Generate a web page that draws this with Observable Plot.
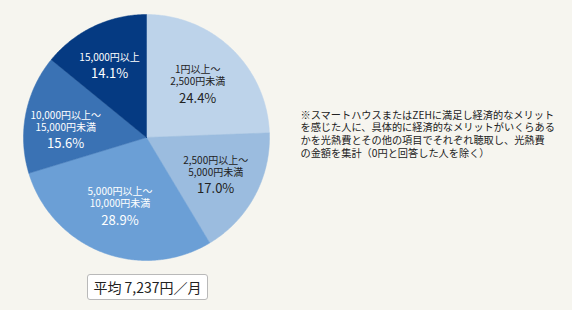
<!DOCTYPE html>
<html lang="ja">
<head>
<meta charset="utf-8">
<script src="https://cdn.jsdelivr.net/npm/d3@7"></script>
<script src="https://cdn.jsdelivr.net/npm/@observablehq/plot@0.6"></script>
<style>
  html, body { margin: 0; padding: 0; background: #f6f5ef; }
  body { width: 572px; height: 310px; overflow: hidden; position: relative;
         font-family: "Noto Sans CJK JP", "Noto Sans", sans-serif; }
  #avg { position: absolute; left: 87px; top: 274px; width: 119px; height: 24px;
         background: #fff; border: 1px solid #b9b9b9; border-radius: 3px;
         font-size: 14px; line-height: 24px; text-align: center; color: #222; }
</style>
</head>
<body>
<div id="chart"></div>
<div id="avg"></div>
<script>
// Monthly utility-cost savings reported by respondents (share of answers)
const categories = [
  ["1円以上～", "2,500円未満"],
  ["2,500円以上～", "5,000円未満"],
  ["5,000円以上～", "10,000円未満"],
  ["10,000円以上～", "15,000円未満"],
  ["15,000円以上"]
];
const shares = [24.4, 17.0, 28.9, 15.6, 14.1];
const colors = ["#bdd3ea", "#9bbcdf", "#6b9fd6", "#3a72b4", "#053a82"];
const textColors = ["#222", "#222", "#fff", "#fff", "#fff"];
const averageLabel = "平均 7,237円／月";
const noteLines = [
  "※スマートハウスまたはZEHに満足し経済的なメリット",
  "を感じた人に、具体的に経済的なメリットがいくらある",
  "かを光熱費とその他の項目でそれぞれ聴取し、光熱費",
  "の金額を集計（0円と回答した人を除く）"
];

// Slice angles, clockwise from 12 o'clock
const arcs = d3.pie().sort(null).value(d => d)(shares);

// Each slice as a closed polygon in unit-circle coordinates
const polys = [];
arcs.forEach((a, i) => {
  polys.push({i, x: 0, y: 0});
  const n = Math.max(2, Math.ceil((a.endAngle - a.startAngle) / 0.01));
  for (let k = 0; k <= n; k++) {
    const t = a.startAngle + (a.endAngle - a.startAngle) * k / n;
    polys.push({i, x: Math.sin(t), y: Math.cos(t)});
  }
  polys.push({i, x: 0, y: 0});
});

// Label anchor per slice, placed along its mid-angle (small angular nudge
// for the narrow left-hand slice so its three lines sit inside the wedge)
const labelRadius = [0.6, 0.64, 0.6, 0.66, 0.7];
const labelNudge = [0, 0, 0, -0.1, 0];
const labels = arcs.map((a, i) => {
  const mid = (a.startAngle + a.endAngle) / 2 + labelNudge[i];
  const r = labelRadius[i];
  return {i, x: r * Math.sin(mid), y: r * Math.cos(mid),
          name: categories[i].join("\n"), pct: shares[i].toFixed(1) + "%"};
});

const chart = Plot.plot({
  width: 572,
  height: 270,
  margin: 0,
  style: {background: "transparent", fontFamily: "'Noto Sans CJK JP', sans-serif"},
  x: {domain: [-1, 1], range: [23, 269], axis: null},
  y: {domain: [-1, 1], range: [260, 14], axis: null},
  marks: [
    Plot.line(polys, {x: "x", y: "y", z: "i", curve: "linear",
      fill: d => colors[d.i], stroke: d => colors[d.i], strokeWidth: 0.5}),
    Plot.text(labels, {x: "x", y: "y", text: "name", fontSize: 10,
      lineHeight: 1.2, lineAnchor: "bottom", dy: 1,
      fill: d => textColors[d.i]}),
    Plot.text(labels, {x: "x", y: "y", text: "pct", fontSize: 13,
      lineAnchor: "top", dy: 9, fill: d => textColors[d.i]}),
    Plot.text([noteLines.join("\n")], {frameAnchor: "top-left", text: d => d,
      dx: 300, dy: 109, lineAnchor: "top", lineHeight: 1.25,
      fontSize: 10.2, fill: "#222", textAnchor: "start"})
  ]
});
document.getElementById("chart").append(chart);
document.getElementById("avg").textContent = averageLabel;
</script>
</body>
</html>
